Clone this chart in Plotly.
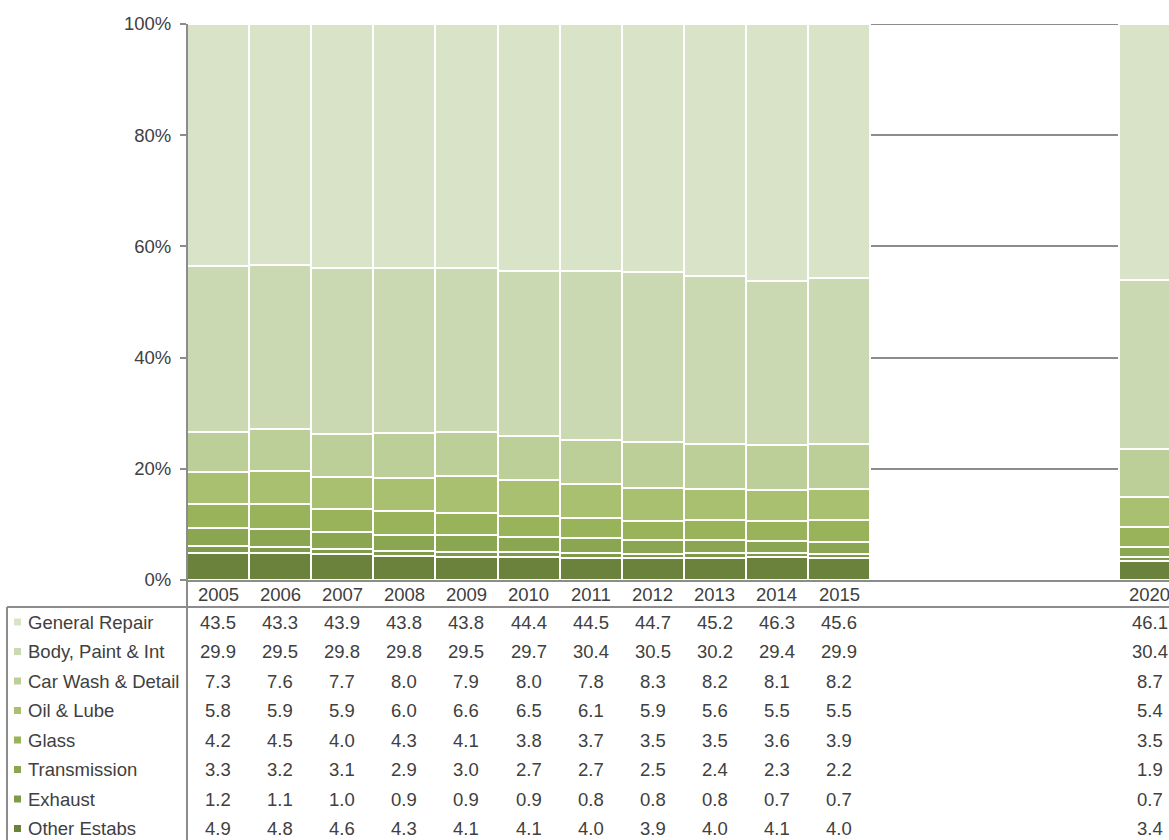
import plotly.graph_objects as go

years = [2005, 2006, 2007, 2008, 2009, 2010, 2011, 2012, 2013, 2014, 2015, 2020]

series_names = ["General Repair", "Body, Paint & Int", "Car Wash & Detail", "Oil & Lube",
                "Glass", "Transmission", "Exhaust", "Other Estabs"]

general_repair = [43.5, 43.3, 43.9, 43.8, 43.8, 44.4, 44.5, 44.7, 45.2, 46.3, 45.6, 46.1]
body_paint = [29.9, 29.5, 29.8, 29.8, 29.5, 29.7, 30.4, 30.5, 30.2, 29.4, 29.9, 30.4]
car_wash = [7.3, 7.6, 7.7, 8.0, 7.9, 8.0, 7.8, 8.3, 8.2, 8.1, 8.2, 8.7]
oil_lube = [5.8, 5.9, 5.9, 6.0, 6.6, 6.5, 6.1, 5.9, 5.6, 5.5, 5.5, 5.4]
glass = [4.2, 4.5, 4.0, 4.3, 4.1, 3.8, 3.7, 3.5, 3.5, 3.6, 3.9, 3.5]
transmission = [3.3, 3.2, 3.1, 2.9, 3.0, 2.7, 2.7, 2.5, 2.4, 2.3, 2.2, 1.9]
exhaust = [1.2, 1.1, 1.0, 0.9, 0.9, 0.9, 0.8, 0.8, 0.8, 0.7, 0.7, 0.7]
other_estabs = [4.9, 4.8, 4.6, 4.3, 4.1, 4.1, 4.0, 3.9, 4.0, 4.1, 4.0, 3.4]

series_values = [general_repair, body_paint, car_wash, oil_lube, glass,
                 transmission, exhaust, other_estabs]
colors = ["#d9e3c8", "#cad9b1", "#bccf99", "#a8c06f", "#98b359", "#8aa651", "#7e9b48", "#6b823c"]

y_ticks = [0, 20, 40, 60, 80, 100]
y_ticktext = ["0%", "20%", "40%", "60%", "80%", "100%"]

FONT = "Liberation Sans, Arial, sans-serif"
FS = 18.5
TXT = "#404040"
GRID = "#8c8c8c"

# pixel geometry helpers
W, H = 1169, 840
L, R, T, B = 187, 0, 24, 260
PW, PH = W - L - R, H - T - B


def px_x(X):
    return (X - L) / PW


def px_y(Y):
    return (H - B - Y) / PH


fig = go.Figure()
# stack bottom-up: Other Estabs first
for name, vals, col in reversed(list(zip(series_names, series_values, colors))):
    fig.add_trace(go.Bar(
        x=years, y=vals, name=name,
        marker=dict(color=col, line=dict(color="white", width=2)),
        showlegend=False, hoverinfo="x+y+name",
    ))

unit = 62.1
fig.update_layout(
    width=W, height=H,
    margin=dict(l=L, r=R, t=T, b=B),
    barmode="stack", barnorm="percent", bargap=0,
    plot_bgcolor="white", paper_bgcolor="white",
    font=dict(family=FONT, size=FS, color=TXT),
    xaxis=dict(range=[2004.5, 2004.5 + PW / unit], tickmode="array", tickvals=years,
               ticktext=[str(y) for y in years], showticklabels=False,
               showgrid=False, zeroline=False,
               showline=True, linecolor=GRID, linewidth=2, ticks=""),
    yaxis=dict(range=[0, 100], tickmode="array", tickvals=y_ticks, ticktext=y_ticktext,
               showgrid=True, gridcolor=GRID, gridwidth=2, zeroline=False,
               showline=False, ticks="outside", ticklen=6, tickcolor=GRID, tickwidth=2,
               ticklabelstandoff=5, tickfont=dict(size=FS, color=TXT)),
)

shapes = []
# top gridline (drawn beneath bars)
shapes.append(dict(type="line", xref="paper", yref="y", x0=0, x1=1, y0=100, y1=100,
                   layer="below", line=dict(color=GRID, width=2)))
# vertical axis line running down through table
shapes.append(dict(type="line", xref="paper", yref="paper", x0=0, x1=0,
                   y0=1, y1=px_y(H), line=dict(color=GRID, width=2)))
# table top line
shapes.append(dict(type="line", xref="paper", yref="paper", x0=px_x(7), x1=1,
                   y0=px_y(607), y1=px_y(607), line=dict(color=GRID, width=2)))
# table left border
shapes.append(dict(type="line", xref="paper", yref="paper", x0=px_x(7), x1=px_x(7),
                   y0=px_y(607), y1=px_y(H), line=dict(color=GRID, width=2)))

annotations = []
# year header row of the table
for yr in years:
    annotations.append(dict(xref="x", yref="paper", x=yr, y=px_y(594), text=str(yr),
                            showarrow=False, xanchor="center", yanchor="middle",
                            font=dict(size=FS, color=TXT)))

row_y0, row_dy = 622, 29.5
for i, (name, vals, col) in enumerate(zip(series_names, series_values, colors)):
    yc = row_y0 + row_dy * i
    shapes.append(dict(type="rect", xref="paper", yref="paper",
                       x0=px_x(14), x1=px_x(21), y0=px_y(yc + 3.5), y1=px_y(yc - 3.5),
                       fillcolor=col, line=dict(width=0)))
    annotations.append(dict(xref="paper", yref="paper", x=px_x(26), y=px_y(yc),
                            text=name, showarrow=False, xanchor="left", yanchor="middle",
                            font=dict(size=FS, color=TXT)))
    for yr, v in zip(years, vals):
        annotations.append(dict(xref="x", yref="paper", x=yr, y=px_y(yc),
                                text=f"{v:.1f}", showarrow=False, xanchor="center",
                                yanchor="middle", font=dict(size=FS, color=TXT)))

fig.update_layout(shapes=shapes, annotations=annotations)
fig.write_html("out.html")
